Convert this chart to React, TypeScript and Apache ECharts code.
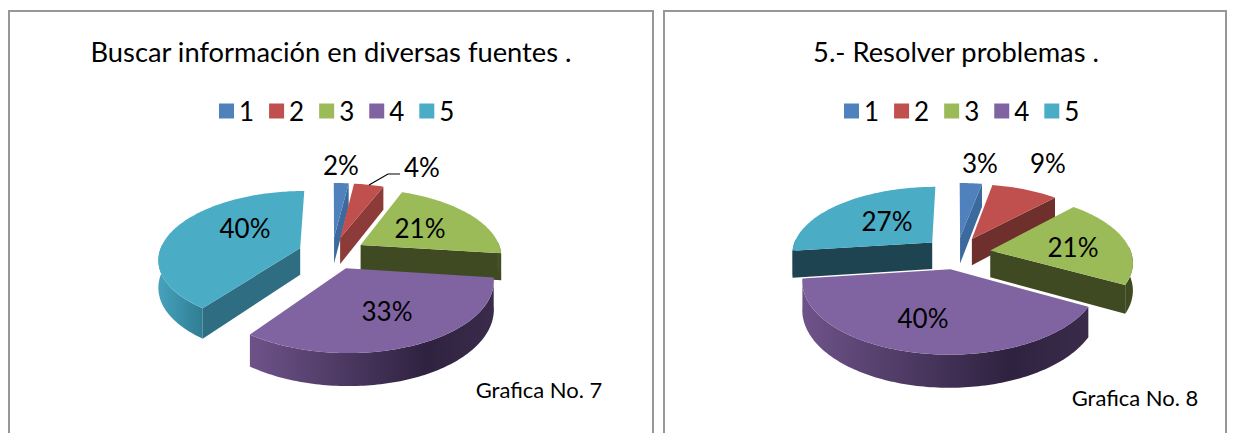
import React, { useEffect, useRef } from "react";
import * as echarts from "echarts";

const categories = ["1", "2", "3", "4", "5"];
const titles = ["Buscar información en diversas fuentes .", "5.- Resolver problemas ."];
const notes = ["Grafica No. 7", "Grafica No. 8"];
const valuesLeft = [2, 4, 21, 33, 40];
const valuesRight = [3, 9, 21, 40, 27];
const allValues = [valuesLeft, valuesRight];

const FONT = "Lato, 'Open Sans', sans-serif";
const topColors = ["#4f81bd", "#c0504d", "#9bbb59", "#8064a2", "#4bacc6"];
const cutColors = [
  ["#3d6a9e", "#8c3b39", "#3f4a22", "#3a2b4a", "#2f6e82"],
  ["#3d6a9e", "#6e2f2d", "#3f4a22", "#3a2b4a", "#1d4450"],
];
const wallStops = [
  [
    ["#3d6a9e", "#2f5480"],
    ["#8c3b39", "#6e2f2d"],
    ["#4a5628", "#3f4a22"],
    ["#6e5389", "#2f2240", "#3a2b4a"],
    ["#46a2bb", "#2f7d93"],
  ],
  [
    ["#3d6a9e", "#2f5480"],
    ["#8c3b39", "#6e2f2d"],
    ["#3f4a22", "#3f4a22"],
    ["#6e5389", "#2f2240", "#3a2b4a"],
    ["#1d4450", "#1d4450"],
  ],
];
const panels = [
  {
    cx: 332, titleX: 326, legendX: 219, noteX: 539, noteY: 389, drawOrder: [0, 1, 2, 4, 3],
    labels: [[341, 165], [422, 167], [420, 228], [387, 311], [245, 228]],
  },
  {
    cx: 957, titleX: 951, legendX: 844, noteX: 1135, noteY: 397, drawOrder: [0, 1, 4, 3, 2],
    labels: [[980, 163], [1048, 163], [1073, 247], [923, 318], [887, 221]],
  },
];
const CY = 253, RX = 141, RY = 67, K = 0.15, EXPLODE = 0.24, DEPTH = 27;

function project(cx: number, X: number, Y: number, drop: number) {
  const d = 1 - K * Y;
  return [cx + (RX * X) / d, CY + (RY * Y + drop) / d];
}

function sliceSeries(panelIdx: number, sliceIdx: number) {
  const values = allValues[panelIdx];
  const panel = panels[panelIdx];
  const total = values.reduce((a, b) => a + b, 0);
  const before = values.slice(0, sliceIdx).reduce((a, b) => a + b, 0);
  return {
    type: "custom",
    name: categories[sliceIdx],
    coordinateSystem: "none",
    silent: true,
    z: 2 + panel.drawOrder.indexOf(sliceIdx),
    itemStyle: { color: topColors[sliceIdx] },
    data: [[values[sliceIdx]]],
    renderItem: (_p: any, api: any) => {
      const value = api.value(0) as number;
      const a0 = (before / total) * Math.PI * 2;
      const a1 = ((before + value) / total) * Math.PI * 2;
      const mid = (a0 + a1) / 2;
      const ox = EXPLODE * Math.sin(mid);
      const oy = -EXPLODE * Math.cos(mid);
      const pt = (a: number, r: number, drop: number) =>
        project(panel.cx, ox + r * Math.sin(a), oy - r * Math.cos(a), drop);

      const steps = Math.max(2, Math.ceil((a1 - a0) / 0.02));
      const arc: number[] = [];
      for (let i = 0; i <= steps; i++) arc.push(a0 + ((a1 - a0) * i) / steps);

      const children: any[] = [];
      const cut = (a: number) => ({
        type: "polygon",
        shape: { points: [pt(a, 0, 0), pt(a, 1, 0), pt(a, 1, DEPTH), pt(a, 0, DEPTH)] },
        style: { fill: cutColors[panelIdx][sliceIdx] },
      });
      // faces turned to the viewer
      if (Math.sin(a1) > 0) children.push(cut(a1));
      if (Math.sin(a0) < 0) children.push(cut(a0));

      const front = arc.filter((a) => Math.cos(a) < 0.06);
      if (front.length > 1) {
        const stops = wallStops[panelIdx][sliceIdx];
        children.push({
          type: "polygon",
          shape: {
            points: [
              ...front.map((a) => pt(a, 1, 0)),
              ...front.slice().reverse().map((a) => pt(a, 1, DEPTH)),
            ],
          },
          style: {
            fill: new echarts.graphic.LinearGradient(
              0, 0, 1, 0,
              stops.map((color, i) => ({
                offset: stops.length === 3 ? [0, 0.72, 1][i] : i / (stops.length - 1),
                color,
              }))
            ),
          },
        });
      }
      children.push({
        type: "polygon",
        shape: { points: [pt(a0, 0, 0), ...arc.map((a) => pt(a, 1, 0))] },
        style: { fill: topColors[sliceIdx] },
      });
      const [lx, ly] = panel.labels[sliceIdx];
      children.push({
        type: "text",
        z2: 50,
        style: {
          text: `${value}%`,
          x: lx,
          y: ly,
          align: "center",
          verticalAlign: "middle",
          fill: "#000",
          font: `26px ${FONT}`,
        },
      });
      return { type: "group", children };
    },
  };
}

export default function App() {
  const ref = useRef<HTMLDivElement>(null);
  useEffect(() => {
    const chart = echarts.init(ref.current!, null, { renderer: "svg" });
    const border = (x: number, w: number) => ({
      type: "rect",
      silent: true,
      z: 0,
      shape: { x, y: 11, width: w, height: 440 },
      style: { fill: "#fff", stroke: "#979797", lineWidth: 2 },
    });
    chart.setOption({
      animation: false,
      backgroundColor: "#fff",
      title: panels.map((p, i) => ({
        text: titles[i],
        left: p.titleX,
        top: 33,
        textAlign: "center",
        textStyle: { fontFamily: FONT, fontSize: 27.3, fontWeight: "normal", color: "#000" },
      })),
      legend: panels.map((p) => ({
        left: p.legendX,
        top: 98,
        padding: 0,
        icon: "rect",
        itemWidth: 15,
        itemHeight: 15,
        itemGap: 15,
        data: categories,
        selectedMode: false,
        textStyle: { fontFamily: FONT, fontSize: 26, color: "#000", padding: [0, 0, 0, 0] },
      })),
      graphic: [
        border(9, 644),
        border(664, 562),
        {
          type: "polyline",
          z: 20,
          silent: true,
          shape: { points: [[369, 185], [388, 174], [400, 174]] },
          style: { stroke: "#000", lineWidth: 1.2, fill: "none" },
        },
        ...panels.map((p, i) => ({
          type: "text",
          z: 20,
          silent: true,
          style: {
            text: notes[i],
            x: p.noteX,
            y: p.noteY,
            align: "center",
            verticalAlign: "middle",
            fill: "#000",
            font: `22px ${FONT}`,
          },
        })),
      ],
      series: panels.flatMap((_, pi) => categories.map((_c, si) => sliceSeries(pi, si))),
    });
    return () => chart.dispose();
  }, []);
  return (
    <div
      ref={ref}
      style={{ position: "absolute", left: 0, top: 0, width: 1236, height: 433 }}
    />
  );
}
